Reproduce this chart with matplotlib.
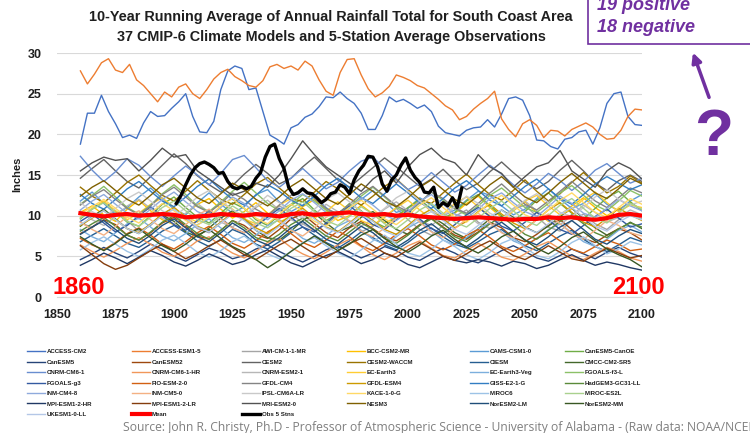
import matplotlib
matplotlib.use("Agg")
import matplotlib.pyplot as plt
from matplotlib.patches import Rectangle, FancyArrowPatch

plt.rcParams["font.family"] = ["Liberation Sans", "DejaVu Sans"]

# ── Data ─────────────────────────────────────────────────────────────────────
# 10-yr running mean of annual rainfall (inches), South Coast area

YEARS_5 = list(range(1860, 2101, 5))     # model runs sampled every 5 years
YEARS_3 = list(range(1860, 2101, 3))     # the two wettest runs, every 3 years
OBS_YEARS = list(range(1901, 2024, 2))   # 5-station observations

access_cm2 = [
    18.8, 22.6, 22.6, 24.8, 22.8, 21.3, 19.6, 19.9, 19.5, 21.4, 22.8, 22.2, 22.3, 23.2,
    24.0, 25.0, 22.2, 20.3, 20.2, 21.6, 25.5, 27.8, 28.4, 28.1, 25.5, 25.7, 22.8, 19.9,
    19.4, 18.8, 20.8, 21.2, 22.1, 22.5, 23.4, 24.6, 24.5, 25.2, 24.4, 23.8, 22.6, 20.6,
    20.6, 22.3, 24.6, 24.0, 24.3, 23.8, 23.2, 23.6, 22.8, 21.0, 20.2, 20.0, 19.8, 20.5,
    20.8, 20.9, 21.8, 20.9, 22.5, 24.4, 24.6, 24.2, 22.3, 19.3, 19.2, 18.5, 18.2, 19.4,
    19.6, 20.3, 20.5, 18.8, 20.8, 23.8, 25.0, 25.2, 22.2, 21.2, 21.1]
access_esm1_5 = [
    27.8, 26.2, 27.4, 28.8, 29.3, 27.9, 27.6, 28.6, 26.7, 26.0, 25.0, 24.0, 25.2, 24.6,
    25.8, 26.2, 25.0, 24.4, 25.5, 26.8, 27.6, 28.0, 27.1, 26.6, 26.0, 25.8, 26.6, 28.3,
    28.6, 28.1, 28.4, 27.9, 29.0, 28.4, 26.7, 25.3, 24.8, 27.6, 29.2, 29.3, 27.3, 25.6,
    24.6, 25.1, 25.9, 27.3, 27.0, 26.6, 26.0, 25.7, 25.0, 24.3, 23.5, 23.0, 21.8, 22.2,
    23.1, 23.8, 24.4, 25.3, 21.9, 20.6, 19.7, 21.3, 21.8, 21.1, 19.6, 20.5, 20.4, 19.8,
    20.6, 21.0, 21.4, 20.9, 20.0, 19.4, 19.5, 20.5, 22.2, 23.1, 23.0]

awi_cm = [9.2, 8.5, 9.8, 10.6, 9.4, 8.1, 8.8, 10.2, 11.0, 9.6, 8.4, 7.9, 9.1, 10.3, 9.7, 8.6, 9.9,
          11.2, 10.4, 9.0, 8.2, 8.9, 10.1, 9.3, 8.0, 8.7, 9.8, 10.9, 9.5, 8.3, 7.6, 8.8, 9.9, 10.7,
          9.2, 8.4, 9.6, 10.8, 11.3, 9.9, 8.6, 8.1, 9.4, 10.2, 9.0, 8.3, 9.5, 10.4, 9.6]
bcc_csm2 = [10.4, 11.2, 10.1, 9.3, 10.8, 11.9, 10.6, 9.5, 8.9, 10.2, 11.4, 12.1, 10.8, 9.7, 10.5,
            11.6, 10.3, 9.2, 9.9, 11.1, 12.0, 10.7, 9.4, 10.0, 11.3, 10.2, 9.1, 9.8, 10.9, 11.8,
            10.5, 9.6, 10.3, 11.5, 12.4, 11.0, 9.8, 10.6, 11.7, 10.4, 9.3, 10.1, 11.2, 12.2, 11.0,
            10.0, 10.8, 11.6, 10.7]
cams_csm1 = [11.8, 12.9, 11.5, 10.2, 11.0, 12.3, 13.4, 12.1, 10.8, 10.1, 11.6, 12.8, 11.4, 10.3,
             11.1, 12.6, 13.2, 11.7, 10.5, 11.3, 12.4, 11.0, 9.9, 10.6, 12.0, 13.1, 11.8, 10.4,
             10.9, 12.2, 11.3, 10.0, 10.7, 11.9, 13.0, 12.5, 11.2, 10.1, 10.8, 12.1, 13.3, 12.0,
             10.9, 11.5, 12.7, 11.4, 10.6, 11.8, 12.6]
canesm5_canoe = [9.6, 10.8, 11.7, 10.5, 9.2, 8.7, 10.0, 11.4, 12.3, 11.0, 9.8, 9.1, 10.3, 11.6,
                 10.9, 9.5, 8.8, 10.1, 11.3, 12.1, 10.7, 9.4, 10.2, 11.5, 10.6, 9.3, 8.6, 9.9,
                 11.0, 12.0, 10.8, 9.7, 10.4, 11.8, 12.6, 11.2, 10.0, 9.3, 10.5, 11.9, 12.8, 11.5,
                 10.3, 9.6, 10.9, 12.2, 13.0, 11.7, 10.6]
canesm5 = [4.6, 5.3, 6.1, 5.4, 4.8, 5.6, 6.5, 5.9, 5.0, 4.4, 5.2, 6.0, 5.5, 4.7, 5.1, 5.9, 6.4,
           5.6, 4.9, 4.3, 5.0, 5.8, 6.3, 5.5, 4.8, 5.4, 6.2, 5.7, 4.9, 4.5, 5.3, 6.0, 5.4, 4.6,
           4.2, 4.9, 5.7, 6.3, 5.6, 4.8, 4.4, 5.1, 5.9, 5.3, 4.7, 5.5, 6.1, 5.4, 4.9]
canesm52 = [7.8, 8.6, 9.5, 8.9, 7.6, 7.0, 7.9, 9.1, 9.8, 8.7, 7.5, 7.1, 8.2, 9.4, 8.8, 7.7, 7.2,
            8.3, 9.6, 10.2, 9.0, 7.9, 7.3, 8.5, 9.3, 8.4, 7.4, 6.9, 7.8, 8.9, 9.7, 8.6, 7.6, 7.1,
            8.0, 9.2, 8.5, 7.3, 6.8, 7.7, 8.8, 9.5, 8.3, 7.2, 6.7, 7.6, 8.4, 7.9, 7.0]
cesm2 = [14.6, 15.8, 16.9, 15.5, 14.2, 13.4, 14.8, 16.2, 17.6, 16.4, 14.9, 13.8, 12.9, 13.7, 15.1,
         16.3, 15.2, 13.9, 14.6, 16.0, 17.2, 15.8, 14.4, 13.5, 14.7, 15.9, 17.1, 16.0, 14.8, 13.6,
         14.5, 15.7, 14.3, 13.2, 14.0, 15.4, 16.6, 15.3, 14.1, 13.3, 14.2, 15.6, 16.8, 15.5, 14.0,
         13.1, 14.3, 15.0, 14.2]
cesm2_waccm = [13.5, 12.4, 11.6, 12.8, 14.1, 15.0, 13.7, 12.5, 11.8, 13.0, 14.3, 13.1, 12.0, 11.4,
               12.6, 13.9, 14.7, 13.4, 12.2, 11.7, 12.9, 14.2, 13.3, 12.1, 11.3, 12.4, 13.6, 14.5,
               13.2, 12.0, 11.5, 12.8, 14.0, 15.1, 13.8, 12.6, 11.9, 13.1, 14.4, 13.0, 11.8, 12.7,
               14.1, 15.3, 14.0, 12.8, 13.6, 14.9, 14.0]
ciesm = [6.8, 7.6, 8.4, 7.5, 6.6, 6.1, 7.0, 8.1, 8.8, 7.9, 6.9, 6.2, 7.1, 8.3, 7.7, 6.5, 5.9, 6.8,
         7.9, 8.6, 7.6, 6.7, 6.0, 6.9, 8.0, 7.3, 6.4, 5.8, 6.7, 7.8, 8.5, 7.4, 6.5, 6.0, 6.8, 7.7,
         8.3, 7.2, 6.3, 5.7, 6.6, 7.5, 8.2, 7.1, 6.2, 5.6, 6.4, 7.3, 6.8]
cmcc_cm2 = [8.7, 9.9, 10.8, 9.6, 8.4, 7.8, 8.9, 10.1, 9.3, 8.0, 7.4, 8.5, 9.7, 10.6, 9.5, 8.2, 7.3,
            7.0, 8.1, 9.4, 10.3, 9.1, 8.0, 8.6, 9.8, 10.5, 9.4, 8.3, 7.7, 8.8, 9.9, 9.0, 7.9, 7.2,
            8.4, 9.6, 10.7, 9.8, 8.6, 7.9, 8.7, 9.9, 10.9, 9.7, 8.5, 7.6, 8.3, 9.2, 8.4]
cnrm_cm6_1 = [17.3, 15.6, 14.2, 15.4, 17.0, 16.2, 14.8, 13.6, 14.9, 16.1, 15.0, 13.8, 15.2, 16.9,
              17.4, 15.9, 14.3, 13.5, 14.6, 15.8, 14.5, 13.3, 14.1, 15.5, 16.7, 17.2, 15.8, 14.4,
              13.2, 14.0, 15.3, 14.1, 12.9, 13.7, 15.0, 16.2, 15.1, 13.8, 12.8, 13.9, 15.2, 14.3,
              13.1, 14.2, 15.6, 16.4, 15.2, 14.0, 14.6]
cnrm_cm6_1_hr = [6.4, 5.6, 4.9, 5.7, 6.6, 7.3, 6.5, 5.5, 5.0, 5.8, 6.9, 7.4, 6.3, 5.4, 4.8, 5.6,
                 6.7, 7.2, 6.1, 5.3, 4.7, 5.5, 6.4, 7.1, 6.2, 5.2, 4.6, 5.4, 6.3, 6.9, 6.0, 5.1,
                 4.8, 5.7, 6.6, 5.8, 4.9, 4.5, 5.3, 6.2, 6.8, 5.9, 5.0, 4.6, 5.4, 6.1, 5.6, 4.8, 4.4]
cnrm_esm2 = [10.6, 9.5, 8.8, 9.9, 11.2, 12.0, 10.9, 9.7, 9.0, 10.3, 11.5, 10.4, 9.2, 8.6, 9.8,
             11.0, 11.9, 10.7, 9.5, 8.9, 10.1, 11.4, 10.5, 9.3, 8.7, 9.6, 10.8, 11.7, 10.6, 9.4,
             8.8, 9.9, 11.1, 10.2, 9.0, 8.5, 9.7, 10.9, 11.8, 10.6, 9.4, 8.9, 10.0, 11.3, 10.4, 9.2,
             9.8, 10.7, 10.1]
ec_earth3 = [9.8, 10.9, 11.8, 10.6, 9.5, 10.3, 11.4, 12.2, 11.0, 9.9, 9.2, 10.4, 11.6, 10.8, 9.6,
             9.0, 10.1, 11.3, 12.1, 10.9, 9.7, 10.5, 11.7, 10.6, 9.4, 8.8, 9.9, 11.0, 11.9, 10.7,
             9.6, 10.2, 11.5, 12.3, 11.1, 10.0, 9.3, 10.6, 11.8, 12.5, 11.2, 10.1, 10.8, 12.0,
             12.9, 11.6, 10.5, 11.3, 11.0]
ec_earth3_veg = [8.3, 7.4, 6.8, 7.9, 9.0, 9.7, 8.6, 7.5, 6.9, 7.8, 8.9, 9.6, 8.5, 7.3, 6.7, 7.6,
                 8.8, 9.5, 8.4, 7.2, 6.6, 7.5, 8.7, 9.4, 8.2, 7.1, 6.5, 7.4, 8.5, 9.3, 8.1, 7.0,
                 6.4, 7.3, 8.4, 9.1, 8.0, 6.9, 6.3, 7.2, 8.3, 9.0, 7.9, 6.8, 6.2, 7.1, 8.2, 8.8, 8.0]
fgoals_f3_l = [11.4, 12.5, 13.6, 12.3, 11.0, 10.2, 11.3, 12.7, 13.8, 12.6, 11.2, 10.5, 11.7, 13.0,
               14.1, 12.8, 11.5, 10.6, 11.4, 12.6, 11.8, 10.7, 10.0, 11.1, 12.4, 13.5, 12.3, 11.0,
               10.3, 11.6, 12.9, 11.9, 10.8, 10.1, 11.2, 12.5, 13.4, 12.2, 11.0, 10.4, 11.5, 12.8,
               13.7, 12.5, 11.3, 10.6, 11.8, 13.1, 12.4]
fgoals_g3 = [9.3, 10.2, 9.1, 8.0, 8.8, 10.0, 11.1, 10.0, 8.9, 8.2, 9.4, 10.6, 9.7, 8.5, 7.9, 8.7,
             9.8, 10.9, 9.8, 8.6, 8.0, 9.1, 10.3, 11.2, 10.1, 8.9, 8.3, 9.5, 10.7, 9.6, 8.4, 7.8,
             8.9, 10.1, 11.0, 9.9, 8.7, 8.1, 9.2, 10.4, 9.5, 8.3, 7.7, 8.8, 9.9, 10.8, 9.7, 8.6, 9.0]
fio_esm = [7.2, 6.4, 5.8, 6.7, 7.8, 8.5, 7.6, 6.5, 5.9, 6.8, 7.9, 8.7, 7.7, 6.6, 6.0, 6.9, 8.0,
           8.8, 7.8, 6.7, 6.1, 7.0, 8.1, 7.4, 6.3, 5.7, 6.6, 7.7, 8.4, 7.5, 6.4, 5.8, 6.5, 7.6,
           8.3, 7.3, 6.2, 5.6, 6.3, 7.2, 7.9, 6.9, 5.9, 5.4, 6.2, 7.0, 6.5, 5.7, 5.9]
gfdl_cm4 = [11.3, 12.4, 13.2, 12.0, 10.9, 10.1, 11.2, 12.6, 13.5, 12.3, 11.1, 10.4, 11.5, 12.8,
            12.0, 10.8, 10.0, 11.3, 12.5, 13.3, 12.1, 10.9, 10.2, 11.4, 12.7, 13.6, 12.4, 11.2,
            10.5, 11.6, 12.9, 12.1, 10.9, 10.3, 11.5, 12.8, 13.9, 12.6, 11.4, 10.7, 11.8, 13.0,
            14.2, 13.0, 11.8, 11.0, 12.2, 13.4, 12.8]
gfdl_esm4 = [8.8, 9.7, 10.6, 9.5, 8.4, 7.9, 9.0, 10.2, 11.0, 9.8, 8.7, 8.1, 9.2, 10.4, 9.6, 8.5,
             7.8, 8.9, 10.1, 10.9, 9.7, 8.6, 8.0, 9.1, 10.3, 9.4, 8.3, 7.7, 8.8, 10.0, 10.8, 9.6,
             8.5, 9.3, 10.5, 11.4, 10.2, 9.1, 8.4, 9.5, 10.7, 11.6, 10.4, 9.2, 8.6, 9.7, 10.9, 10.1, 9.4]
giss_e2 = [12.6, 11.5, 10.8, 12.0, 13.3, 14.2, 13.0, 11.8, 11.1, 12.3, 13.6, 14.5, 13.2, 12.0, 11.3,
           12.5, 13.8, 13.0, 11.9, 11.2, 12.4, 13.7, 14.6, 13.4, 12.2, 11.5, 12.7, 13.9, 12.8, 11.6,
           10.9, 12.1, 13.4, 14.3, 13.1, 11.9, 11.2, 12.4, 13.6, 14.5, 13.3, 12.1, 11.4, 12.6, 13.9,
           14.8, 14.0, 13.2, 13.8]
hadgem3 = [8.1, 9.0, 9.8, 8.7, 7.6, 7.0, 8.0, 9.2, 10.0, 8.9, 7.8, 7.1, 8.2, 9.4, 8.5, 7.3, 6.8,
           7.7, 8.9, 9.7, 8.6, 7.5, 6.9, 8.0, 9.1, 8.3, 7.2, 6.6, 7.6, 8.8, 9.6, 8.5, 7.4, 6.8, 7.9,
           9.0, 9.9, 8.8, 7.7, 7.1, 8.2, 9.3, 10.1, 9.0, 7.9, 7.3, 8.4, 9.1, 8.6]
inm_cm4_8 = [10.7, 11.8, 12.6, 11.4, 10.3, 9.6, 10.8, 12.0, 12.9, 11.7, 10.5, 9.9, 11.0, 12.3,
             11.5, 10.2, 9.5, 10.6, 11.9, 12.7, 11.6, 10.4, 9.8, 10.9, 12.2, 11.3, 10.1, 9.4, 10.5,
             11.8, 12.6, 11.4, 10.2, 9.7, 10.8, 12.1, 12.8, 11.6, 10.5, 9.9, 11.1, 12.4, 11.5,
             10.3, 9.8, 10.9, 12.0, 11.2, 10.6]
inm_cm5_0 = [9.2, 8.3, 7.6, 8.7, 9.9, 10.6, 9.5, 8.4, 7.8, 8.9, 10.1, 10.8, 9.6, 8.5, 7.9, 9.0,
             10.2, 9.4, 8.2, 7.5, 8.6, 9.8, 10.5, 9.3, 8.1, 7.4, 8.5, 9.7, 10.4, 9.2, 8.0, 7.3, 8.4,
             9.6, 10.3, 9.1, 7.9, 7.2, 8.3, 9.5, 10.2, 9.0, 7.8, 7.1, 8.2, 9.4, 8.8, 7.9, 7.5]
ipsl_cm6a = [11.6, 10.5, 9.8, 10.9, 12.1, 12.9, 11.8, 10.6, 9.9, 11.0, 12.3, 13.1, 11.9, 10.7,
             10.0, 11.2, 12.5, 11.6, 10.4, 9.7, 10.8, 12.0, 12.8, 11.7, 10.5, 9.8, 10.9, 12.2,
             13.0, 11.8, 10.6, 10.0, 11.1, 12.4, 11.5, 10.3, 9.6, 10.7, 11.9, 12.7, 11.6, 10.4,
             9.9, 11.0, 12.3, 13.2, 12.0, 11.3, 11.8]
kace_1_0 = [10.2, 11.1, 12.0, 10.9, 9.8, 9.1, 10.3, 11.5, 10.6, 9.4, 8.8, 9.9, 11.2, 12.1, 10.9,
            9.7, 9.0, 10.2, 11.4, 10.5, 9.3, 8.7, 9.8, 11.0, 11.9, 10.8, 9.6, 8.9, 10.0, 11.3, 12.2,
            11.0, 9.8, 9.2, 10.4, 11.6, 12.5, 11.3, 10.1, 9.5, 10.7, 11.9, 12.8, 11.6, 10.4, 9.8,
            11.0, 12.1, 11.4]
miroc6 = [5.8, 6.7, 7.4, 6.5, 5.6, 5.0, 5.9, 7.0, 7.6, 6.6, 5.5, 4.9, 5.7, 6.8, 7.5, 6.4, 5.3,
          4.7, 5.6, 6.7, 7.3, 6.3, 5.4, 4.8, 5.8, 6.9, 7.6, 6.5, 5.4, 5.0, 5.9, 7.0, 6.2, 5.2, 4.6,
          5.5, 6.6, 7.2, 6.1, 5.1, 4.7, 5.6, 6.7, 7.4, 6.3, 5.3, 5.9, 6.8, 6.4]
miroc_es2l = [9.7, 10.8, 11.6, 10.4, 9.3, 8.7, 9.8, 11.0, 11.8, 10.6, 9.5, 8.9, 10.0, 11.2, 10.3,
              9.1, 8.5, 9.6, 10.9, 11.7, 10.5, 9.4, 8.8, 9.9, 11.1, 10.2, 9.0, 8.4, 9.5, 10.7, 11.5,
              10.3, 9.2, 8.6, 9.7, 10.9, 11.8, 10.6, 9.4, 8.8, 10.0, 11.3, 12.1, 10.9, 9.7, 9.1,
              10.3, 11.5, 10.8]
mpi_esm1_2_hr = [3.9, 4.6, 5.4, 4.8, 4.1, 4.9, 5.7, 5.1, 4.3, 3.8, 4.5, 5.3, 4.7, 4.0, 4.4, 5.2,
                 5.8, 5.0, 4.2, 3.7, 4.4, 5.1, 5.6, 4.9, 4.1, 4.6, 5.4, 4.8, 4.0, 3.6, 4.3, 5.0,
                 4.5, 4.2, 4.6, 4.3, 3.8, 4.4, 4.1, 3.5, 3.9, 4.6, 5.2, 4.5, 3.9, 4.3, 4.0, 3.6, 3.3]
mpi_esm1_2_lr = [6.3, 5.2, 4.1, 3.4, 3.9, 4.8, 5.7, 6.5, 5.6, 4.7, 5.4, 6.3, 7.0, 6.1, 5.2, 4.6,
                 5.5, 6.4, 7.1, 6.2, 5.3, 4.8, 5.7, 6.6, 7.2, 6.3, 5.4, 4.9, 5.8, 6.7, 5.9, 5.0,
                 4.5, 5.3, 6.2, 6.9, 6.0, 5.1, 4.6, 5.4, 6.3, 5.5, 4.7, 4.4, 5.2, 6.0, 5.4, 4.8, 5.1]
mri_esm2 = [15.5, 16.5, 17.2, 16.8, 17.0, 15.5, 16.8, 18.3, 17.2, 17.5, 15.5, 14.5, 13.5, 12.5,
            13.0, 14.0, 13.5, 15.0, 17.0, 19.2, 17.5, 16.0, 15.0, 14.0, 13.0, 14.5, 15.5, 14.0,
            16.0, 17.5, 18.3, 17.0, 16.5, 15.0, 17.5, 16.0, 15.2, 13.5, 14.8, 16.0, 16.5, 18.0,
            15.5, 14.5, 13.5, 15.5, 16.5, 15.8, 14.5]
nesm3 = [12.4, 13.5, 14.3, 13.1, 12.0, 11.3, 12.5, 13.8, 14.6, 13.4, 12.2, 11.5, 12.7, 14.0, 13.2,
         12.0, 11.2, 12.3, 13.6, 14.5, 13.3, 12.1, 11.4, 12.6, 13.9, 13.0, 11.8, 11.1, 12.2, 13.5,
         14.4, 13.2, 12.0, 11.3, 12.5, 13.8, 14.8, 13.5, 12.3, 11.6, 12.8, 14.1, 15.2, 14.0, 12.8,
         12.1, 13.3, 14.6, 13.9]
noresm2_lm = [7.7, 8.6, 9.4, 8.3, 7.2, 6.6, 7.6, 8.8, 9.6, 8.5, 7.4, 6.8, 7.9, 9.1, 8.2, 7.0, 6.4,
              7.3, 8.5, 9.3, 8.2, 7.1, 6.5, 7.6, 8.7, 7.9, 6.7, 6.1, 7.0, 8.2, 9.0, 7.9, 6.8, 6.2,
              7.2, 8.4, 9.2, 8.1, 7.0, 6.4, 7.4, 8.6, 9.4, 8.3, 7.1, 6.5, 7.5, 8.3, 7.8]
noresm2_mm = [7.4, 6.5, 5.7, 6.6, 7.7, 8.4, 7.3, 6.3, 5.6, 6.5, 7.6, 8.3, 7.2, 6.2, 5.5, 4.6, 3.6,
              4.5, 5.6, 6.6, 7.5, 6.6, 5.7, 6.5, 7.6, 8.3, 7.2, 6.2, 5.5, 6.4, 7.5, 8.2, 7.1, 6.1,
              5.4, 6.3, 7.4, 8.1, 7.0, 6.0, 5.3, 6.2, 7.3, 8.0, 6.9, 5.9, 5.2, 4.6, 3.7]
ukesm1 = [8.9, 9.8, 10.6, 9.5, 8.4, 7.8, 8.9, 10.0, 10.8, 9.7, 8.6, 8.0, 9.1, 10.2, 9.4, 8.2, 7.6,
          8.7, 9.9, 10.7, 9.6, 8.5, 7.9, 9.0, 10.1, 9.3, 8.1, 7.5, 8.6, 9.8, 10.5, 9.4, 8.3, 7.7,
          8.8, 9.9, 10.7, 9.6, 8.5, 7.9, 9.0, 10.2, 11.0, 9.8, 8.7, 8.1, 9.2, 10.0, 9.5]

model_mean = [10.3, 10.1, 9.9, 10.1, 10.2, 10.0, 10.1, 10.2, 10.1, 9.8, 9.9, 10.0, 10.2, 10.1,
              10.0, 10.2, 10.1, 9.9, 10.2, 10.3, 10.1, 10.2, 10.3, 10.4, 10.2, 10.1, 10.2, 10.0,
              10.1, 9.9, 9.8, 9.7, 9.6, 9.7, 9.8, 9.7, 9.6, 9.5, 9.6, 9.6, 9.8, 9.7, 9.8, 9.6,
              9.5, 9.7, 10.1, 10.2, 10.0]

obs_5stns = [11.5, 12.5, 13.8, 15.0, 15.9, 16.4, 16.6, 16.3, 15.9, 15.2, 15.3, 14.2, 13.5, 13.3,
             13.6, 13.3, 13.6, 14.6, 15.3, 17.2, 18.5, 18.8, 17.0, 15.8, 13.5, 12.6, 12.8, 13.3,
             12.8, 12.7, 12.2, 11.6, 12.0, 12.7, 12.9, 13.8, 13.5, 12.7, 14.4, 15.5, 16.2, 17.3,
             17.2, 16.0, 13.9, 13.0, 14.4, 15.0, 16.2, 17.1, 15.6, 14.7, 14.1, 12.9, 12.8, 13.5,
             11.0, 11.6, 11.2, 12.2, 11.0, 13.4]

# legend order (row by row, as in the workbook)
MODEL_NAMES = [
    "ACCESS-CM2", "ACCESS-ESM1-5", "AWI-CM-1-1-MR", "BCC-CSM2-MR", "CAMS-CSM1-0", "CanESM5-CanOE",
    "CanESM5", "CanESM52", "CESM2", "CESM2-WACCM", "CIESM", "CMCC-CM2-SR5",
    "CNRM-CM6-1", "CNRM-CM6-1-HR", "CNRM-ESM2-1", "EC-Earth3", "EC-Earth3-Veg", "FGOALS-f3-L",
    "FGOALS-g3", "FIO-ESM-2-0", "GFDL-CM4", "GFDL-ESM4", "GISS-E2-1-G", "HadGEM3-GC31-LL",
    "INM-CM4-8", "INM-CM5-0", "IPSL-CM6A-LR", "KACE-1-0-G", "MIROC6", "MIROC-ES2L",
    "MPI-ESM1-2-HR", "MPI-ESM1-2-LR", "MRI-ESM2-0", "NESM3", "NorESM2-LM", "NorESM2-MM",
    "UKESM1-0-LL",
]
MODEL_VALUES = [
    access_cm2, access_esm1_5, awi_cm, bcc_csm2, cams_csm1, canesm5_canoe,
    canesm5, canesm52, cesm2, cesm2_waccm, ciesm, cmcc_cm2,
    cnrm_cm6_1, cnrm_cm6_1_hr, cnrm_esm2, ec_earth3, ec_earth3_veg, fgoals_f3_l,
    fgoals_g3, fio_esm, gfdl_cm4, gfdl_esm4, giss_e2, hadgem3,
    inm_cm4_8, inm_cm5_0, ipsl_cm6a, kace_1_0, miroc6, miroc_es2l,
    mpi_esm1_2_hr, mpi_esm1_2_lr, mri_esm2, nesm3, noresm2_lm, noresm2_mm,
    ukesm1,
]

# Office palette: accents, then darker / lighter shades of the same six
PALETTE = [
    "#4472C4", "#ED7D31", "#A5A5A5", "#FFC000", "#5B9BD5", "#70AD47",
    "#264478", "#9E480E", "#636363", "#997300", "#255E91", "#43682B",
    "#698ED0", "#F1975A", "#B7B7B7", "#FFCD33", "#7CAFDD", "#8CC168",
    "#335AA1", "#D26012", "#848484", "#CC9A00", "#327DC2", "#5A8A39",
    "#8FAADC", "#F4B183", "#C9C9C9", "#FFD966", "#9DC3E6", "#A9D18E",
    "#203864", "#843C0C", "#525252", "#7F6000", "#1F4E79", "#385723",
    "#B4C7E7",
]
PURPLE = "#7030A0"
TEXT_DARK = "#1F1F1F"

W, H = 750, 433


def fx(px):
    return px / W


def fy(py):
    return 1 - py / H


# ── Figure ───────────────────────────────────────────────────────────────────

fig = plt.figure(figsize=(W / 100, H / 100), dpi=100)
ax = fig.add_axes([fx(57), fy(297), fx(642) - fx(57), fy(53) - fy(297)])

handles = []
for i, (name, vals) in enumerate(zip(MODEL_NAMES, MODEL_VALUES)):
    yrs = YEARS_3 if len(vals) == len(YEARS_3) else YEARS_5
    ln, = ax.plot(yrs, vals, color=PALETTE[i], lw=1.0, zorder=2)
    handles.append(ln)

mean_ln, = ax.plot(YEARS_5, model_mean, color="#FF0000", lw=3.0, zorder=4)
obs_ln, = ax.plot(OBS_YEARS, obs_5stns, color="black", lw=2.4, zorder=5)
handles += [mean_ln, obs_ln]
labels = MODEL_NAMES + ["Mean", "Obs 5 Stns"]

ax.set_xlim(1850, 2100)
ax.set_ylim(0, 30)
ax.set_xticks(range(1850, 2101, 25))
ax.set_yticks(range(0, 31, 5))
ax.grid(axis="y", color="#D9D9D9", lw=0.8)
ax.set_axisbelow(True)
for side in ("top", "right", "left"):
    ax.spines[side].set_visible(False)
ax.spines["bottom"].set_color("#D9D9D9")
ax.tick_params(length=0, labelsize=9, labelcolor=TEXT_DARK)
ax.tick_params(axis="y", pad=11)
ax.tick_params(axis="x", pad=9)
for lab in ax.get_xticklabels() + ax.get_yticklabels():
    lab.set_fontweight("bold")

fig.text(fx(17), fy(174), "Inches", rotation=90, ha="center", va="center",
         fontsize=8, fontweight="bold", color=TEXT_DARK)

fig.text(fx(331), fy(17), "10-Year Running Average of Annual Rainfall Total for South Coast Area",
         ha="center", va="center", fontsize=10.4, fontweight="bold", color=TEXT_DARK)
fig.text(fx(331), fy(37), "37 CMIP-6 Climate Models and 5-Station Average Observations",
         ha="center", va="center", fontsize=10.4, fontweight="bold", color=TEXT_DARK)

fig.text(fx(79), fy(287), "1860", ha="center", va="center", fontsize=17,
         fontweight="bold", color="#FF0000")
fig.text(fx(638), fy(287), "2100", ha="center", va="center", fontsize=17,
         fontweight="bold", color="#FF0000")

# legend: six columns laid out row by row
COL_X = [27, 132, 242, 347, 470, 565]
for c, x0 in enumerate(COL_X):
    idx = list(range(c, len(handles), 6))
    leg = fig.legend([handles[i] for i in idx], [labels[i] for i in idx],
                     loc="upper left", bbox_to_anchor=(fx(x0), fy(349)),
                     frameon=False, borderpad=0, borderaxespad=0,
                     handlelength=3.0, handletextpad=0.25, labelspacing=0.85,
                     prop={"size": 4.4, "weight": "bold"})
    for t in leg.get_texts():
        t.set_color(TEXT_DARK)

fig.text(fx(123), fy(431), "Source: John R. Christy, Ph.D - Professor of Atmospheric Science - "
         "University of Alabama - (Raw data: NOAA/NCEI)", ha="left", va="baseline",
         fontsize=8.7, color="#7F7F7F", family="Open Sans")

# call-out box, arrow and question mark
fig.patches.append(Rectangle((fx(588), fy(44)), 0.3, 0.2, transform=fig.transFigure,
                             facecolor="white", edgecolor=PURPLE, lw=1.2, zorder=1))
fig.text(fx(597), fy(5), "19 positive", ha="left", va="center", fontsize=13,
         fontweight="bold", fontstyle="italic", color=PURPLE)
fig.text(fx(597), fy(27), "18 negative", ha="left", va="center", fontsize=13,
         fontweight="bold", fontstyle="italic", color=PURPLE)
fig.add_artist(FancyArrowPatch(
    (fx(710), fy(100)), (fx(692), fy(50)), transform=fig.transFigure,
    arrowstyle="-|>", mutation_scale=14, color=PURPLE, lw=2.5))
fig.text(fx(714), fy(138), "?", ha="center", va="center", fontsize=46,
         fontweight="bold", color=PURPLE)

fig.savefig("out.png", dpi=100, facecolor="white")
